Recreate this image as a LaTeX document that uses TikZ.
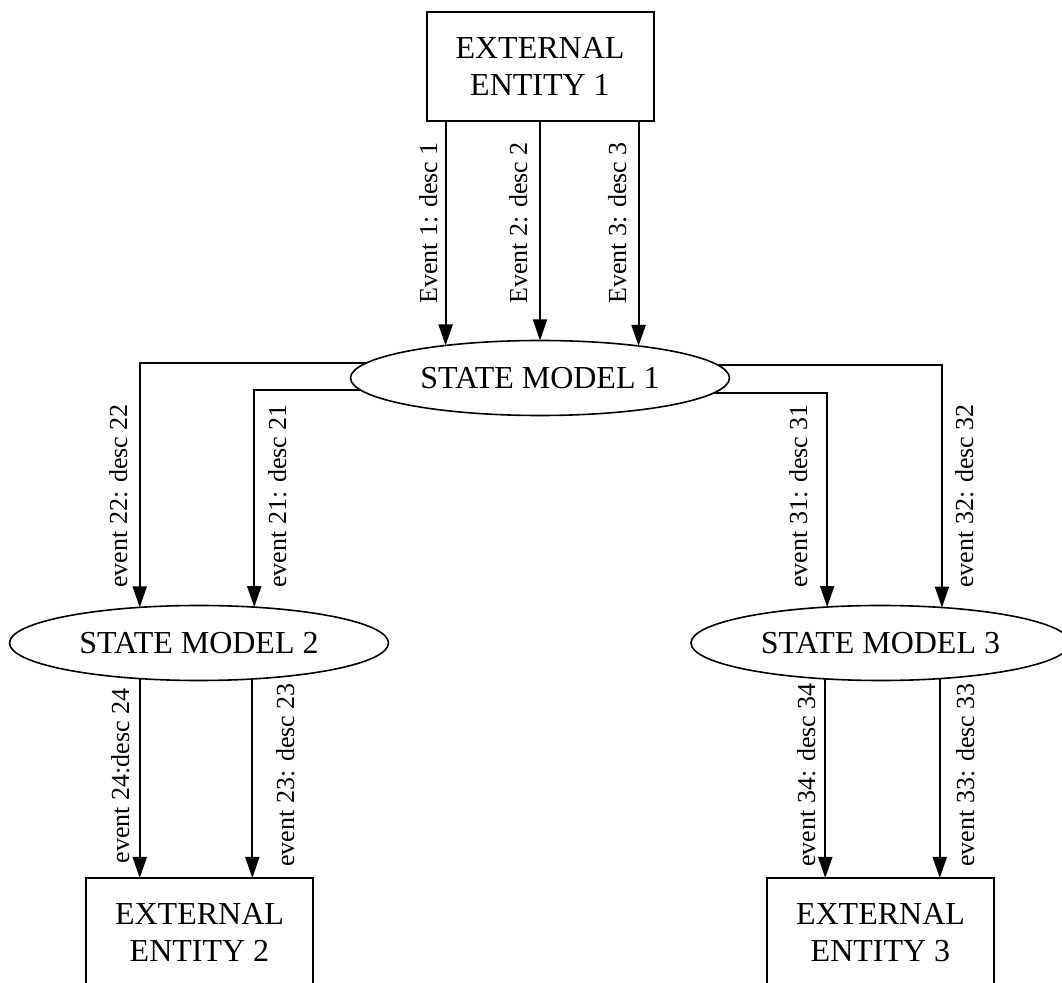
\documentclass[tikz,border=0pt]{standalone}
\usepackage{fontspec}
\setmainfont{Liberation Serif}
\usetikzlibrary{arrows.meta,shapes.geometric}
\begin{document}
\begin{tikzpicture}[x=0.5pt,y=-0.5pt,
  entity/.style={draw, line width=1pt, minimum width=113.5pt, minimum height=54.5pt,
    inner sep=0pt, outer sep=0pt, align=center,
    font=\fontsize{16pt}{18.5pt}\selectfont},
  statemodel/.style={draw, ellipse, line width=0.8pt, minimum width=189.5pt,
    minimum height=37.5pt, inner sep=0pt, outer sep=0pt,
    font=\fontsize{16pt}{18.5pt}\selectfont},
  flow/.style={line width=1pt, -{Triangle[length=10.5pt,width=7pt]}},
  evt/.style={rotate=90, anchor=base, inner sep=0pt,
    font=\fontsize{13pt}{15pt}\selectfont}]

\clip (0,0) rectangle (1062,983);

% entities and state models
\node[entity] (e1) at (540,66.5) {EXTERNAL\\ENTITY 1};
\node[statemodel] (sm1) at (540,378) {STATE MODEL 1};
\node[statemodel] (sm2) at (199,643) {STATE MODEL 2};
\node[statemodel] (sm3) at (880.5,643) {STATE MODEL 3};
\node[entity] (e2) at (199.5,932.5) {EXTERNAL\\ENTITY 2};
\node[entity] (e3) at (880.5,932.5) {EXTERNAL\\ENTITY 3};

% events from entity 1
\draw[flow] (e1.south -| sm1.161.86) -- (sm1.161.86);
\draw[flow] (e1.south) -- (sm1.north);
\draw[flow] (e1.south -| sm1.18.14) -- (sm1.18.14);

% events from state model 1
\draw[flow] (sm1.175.06) -| (sm2.149.34);
\draw[flow] (sm1.184.94) -| (sm2.33.13);
\draw[flow] (sm1.355.06) -| (sm3.146.09);
\draw[flow] (sm1.4.94) -| (sm3.30.43);

% events to entities 2 and 3
\draw[flow] (sm2.211.61) -- (sm2.211.61 |- e2.north);
\draw[flow] (sm2.326.87) -- (sm2.326.87 |- e2.north);
\draw[flow] (sm3.213.91) -- (sm3.213.91 |- e3.north);
\draw[flow] (sm3.329.57) -- (sm3.329.57 |- e3.north);

% event labels
\node[evt] (l1) at (437,223) {Event 1: desc 1};
\node[evt] (l2) at (527,223) {Event 2: desc 2};
\node[evt] (l3) at (626,223) {Event 3: desc 3};
\node[evt] (l22) at (127,496) {event 22: desc 22};
\node[evt] (l21) at (286,496) {event 21: desc 21};
\node[evt] (l31) at (807,496) {event 31: desc 31};
\node[evt] (l32) at (973,496) {event 32: desc 32};
\node[evt] (l24) at (129,776) {event 24:desc 24};
\node[evt] (l23) at (294,775) {event 23: desc 23};
\node[evt] (l34) at (815,775) {event 34: desc 34};
\node[evt] (l33) at (974,775) {event 33: desc 33};
\end{tikzpicture}
\end{document}
